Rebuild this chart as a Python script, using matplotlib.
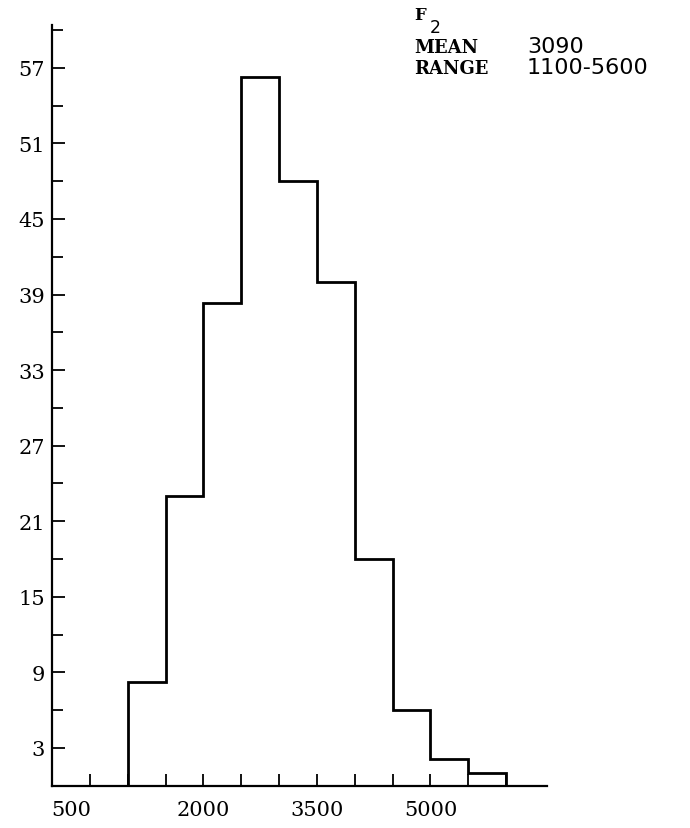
import matplotlib
matplotlib.use("Agg")
import matplotlib.pyplot as plt
import matplotlib.transforms as mtransforms

# Frequency distribution of F2 (class width 500)
bin_edges = [1000, 1500, 2000, 2500, 3000, 3500, 4000, 4500, 5000, 5500, 6000]
frequencies = [8.2, 23.0, 38.3, 56.3, 48.0, 40.0, 18.0, 6.0, 2.1, 1.0]

x_label_values = [500, 2000, 3500, 5000]
x_labels = ["500", "2000", "3500", "5000"]
x_minor_marks = [1000, 1500, 2500, 3000, 4000, 4500, 5500, 6000]

y_label_values = [3, 9, 15, 21, 27, 33, 39, 45, 51, 57]
y_labels = [str(v) for v in y_label_values]
y_minor_marks = [6, 12, 18, 24, 30, 36, 42, 48, 54, 60]

title_name = "F"
title_sub = "2"
stat_names = ["MEAN", "RANGE"]
stat_values = ["3090", "1100-5600"]

W, H = 690, 829
fig = plt.figure(figsize=(W / 100, H / 100), dpi=100)
fig.patch.set_facecolor("white")

left, right, bottom, top = 52, 547, 786.7, 26
ax = fig.add_axes([left / W, (H - bottom) / H, (right - left) / W, (bottom - top) / H])

ax.stairs(frequencies, bin_edges, baseline=0, fill=False, color="black", linewidth=2.0)

ax.set_xlim(0, 6540)
ax.set_ylim(0, 60.4)

for side in ("top", "right"):
    ax.spines[side].set_visible(False)
for side in ("left", "bottom"):
    ax.spines[side].set_linewidth(1.6)
    ax.spines[side].set_color("black")

tick_font = dict(family="DejaVu Serif", size=15)

ax.set_xticks(x_label_values)
ax.set_xticklabels(x_labels, fontdict=tick_font)
ax.set_xticks(x_minor_marks, minor=True)
ax.tick_params(axis="x", which="both", direction="in", length=9, width=1.3,
               pad=10, colors="black")

ax.set_yticks(y_label_values)
ax.set_yticklabels(y_labels, fontdict=tick_font)
ax.set_yticks(y_minor_marks, minor=True)
ax.tick_params(axis="y", which="major", direction="in", length=9, width=1.3, pad=5)
ax.tick_params(axis="y", which="minor", direction="in", length=8, width=1.3)

# the first x label sits a little left of its tick
first = ax.get_xticklabels()[0]
first.set_transform(first.get_transform() +
                    mtransforms.ScaledTranslation(-19 / 100, 0, fig.dpi_scale_trans))

# statistics block in the upper right
def fx(px):
    return px / W

def fy(py):
    return 1 - py / H

fig.text(fx(414), fy(20), title_name, family="DejaVu Serif", weight="bold",
         size=12, ha="left", va="baseline")
fig.text(fx(430), fy(33), title_sub, family="DejaVu Sans", size=12.5,
         ha="left", va="baseline")
stat_y = [53, 74]
for name, value, y in zip(stat_names, stat_values, stat_y):
    fig.text(fx(414), fy(y), name, family="DejaVu Serif", weight="bold",
             size=13, ha="left", va="baseline")
    fig.text(fx(527), fy(y), value, family="DejaVu Sans", size=16,
             ha="left", va="baseline")

fig.savefig("out.png", dpi=100, facecolor="white")
